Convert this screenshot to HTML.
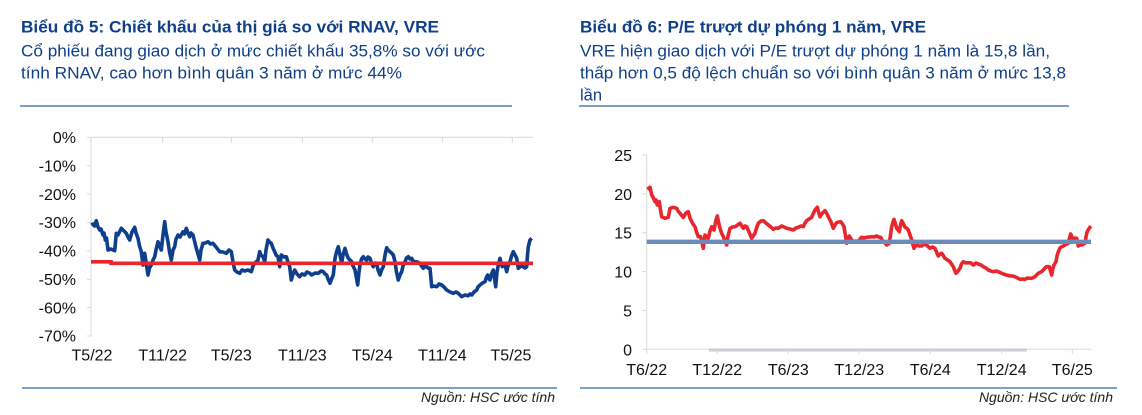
<!DOCTYPE html>
<html><head><meta charset="utf-8">
<style>
html,body{margin:0;padding:0;background:#fff;}
svg{display:block;}
text{font-family:"Liberation Sans",Arial,sans-serif;}
</style></head>
<body>
<svg width="1142" height="415" viewBox="0 0 1142 415" xmlns="http://www.w3.org/2000/svg">
<rect width="1142" height="415" fill="#ffffff"/>
<!-- Titles -->
<g fill="#0f3f88">
<text x="21" y="32.5" font-size="17" font-weight="bold" textLength="418" lengthAdjust="spacingAndGlyphs">Biểu đồ 5: Chiết khấu của thị giá so với RNAV, VRE</text>
<text x="21" y="56.5" font-size="17" textLength="464" lengthAdjust="spacingAndGlyphs">Cổ phiếu đang giao dịch ở mức chiết khấu 35,8% so với ước</text>
<text x="21" y="78.5" font-size="17" textLength="381" lengthAdjust="spacingAndGlyphs">tính RNAV, cao hơn bình quân 3 năm ở mức 44%</text>
<text x="580" y="32.5" font-size="17" font-weight="bold" textLength="346" lengthAdjust="spacingAndGlyphs">Biểu đồ 6: P/E trượt dự phóng 1 năm, VRE</text>
<text x="580" y="56.5" font-size="17" textLength="470" lengthAdjust="spacingAndGlyphs">VRE hiện giao dịch với P/E trượt dự phóng 1 năm là 15,8 lần,</text>
<text x="580" y="78.5" font-size="17" textLength="486" lengthAdjust="spacingAndGlyphs">thấp hơn 0,5 độ lệch chuẩn so với bình quân 3 năm ở mức 13,8</text>
<text x="580" y="100.5" font-size="17" textLength="22" lengthAdjust="spacingAndGlyphs">lần</text>
</g>
<!-- top separators -->
<line x1="20" y1="106" x2="512" y2="106" stroke="#7f9cc3" stroke-width="2"/>
<line x1="579" y1="106" x2="1069" y2="106" stroke="#7f9cc3" stroke-width="2"/>
<!-- bottom separators -->
<line x1="22" y1="388" x2="557" y2="388" stroke="#4f81bd" stroke-width="1.5"/>
<line x1="580" y1="388" x2="1117" y2="388" stroke="#4f81bd" stroke-width="1.5"/>
<g font-size="14" font-style="italic" fill="#222" text-anchor="end">
<text x="555" y="402">Nguồn: HSC ước tính</text>
<text x="1113" y="402">Nguồn: HSC ước tính</text>
</g>

<!-- LEFT CHART -->
<g stroke="#d9d9d9" stroke-width="1" fill="none">
<line x1="91" y1="137.3" x2="533" y2="137.3"/>
<line x1="91" y1="137.3" x2="91" y2="336"/>
<line x1="87" y1="137.3" x2="91" y2="137.3"/>
<line x1="87" y1="165.7" x2="91" y2="165.7"/>
<line x1="87" y1="194.1" x2="91" y2="194.1"/>
<line x1="87" y1="222.5" x2="91" y2="222.5"/>
<line x1="87" y1="250.9" x2="91" y2="250.9"/>
<line x1="87" y1="279.3" x2="91" y2="279.3"/>
<line x1="87" y1="307.6" x2="91" y2="307.6"/>
<line x1="87" y1="336" x2="91" y2="336"/>
<line x1="91" y1="137.3" x2="91" y2="143"/>
<line x1="162.7" y1="137.3" x2="162.7" y2="143"/>
<line x1="231.3" y1="137.3" x2="231.3" y2="143"/>
<line x1="302.3" y1="137.3" x2="302.3" y2="143"/>
<line x1="372.3" y1="137.3" x2="372.3" y2="143"/>
<line x1="442.3" y1="137.3" x2="442.3" y2="143"/>
<line x1="512.3" y1="137.3" x2="512.3" y2="143"/>
</g>
<g font-size="16" fill="#111" text-anchor="end">
<text x="76" y="143">0%</text>
<text x="76" y="171.4">-10%</text>
<text x="76" y="199.8">-20%</text>
<text x="76" y="228.2">-30%</text>
<text x="76" y="256.6">-40%</text>
<text x="76" y="285">-50%</text>
<text x="76" y="313.3">-60%</text>
<text x="76" y="341.7">-70%</text>
</g>
<g font-size="16" fill="#111" text-anchor="middle">
<text x="92" y="360.5">T5/22</text>
<text x="162.7" y="360.5">T11/22</text>
<text x="231.3" y="360.5">T5/23</text>
<text x="302.3" y="360.5">T11/23</text>
<text x="372.3" y="360.5">T5/24</text>
<text x="442.3" y="360.5">T11/24</text>
<text x="511" y="360.5">T5/25</text>
</g>
<polyline fill="none" stroke="#0d3f8c" stroke-width="3.6" stroke-linejoin="round" points="91.3,225 93,224 94.5,226 96.3,220.7 98,227 99.7,230 101,229 103,235 104,233 105.3,240 106.5,238 108,250 111,249 114.7,250.7 116.3,233.3 118,235 121.3,228.3 124,231 126.3,233.3 128,237 129.7,240 132,232 134.7,227.3 136,233 138,238.3 139.5,246 141.3,251.7 143,265 144.7,253.3 146,262 148,275 149.5,268 151.3,265 153,260 154.7,256.7 156,250 158,241.7 159.5,246 161.3,250 163,235 164.7,221.7 166,232 168,241.7 169.5,252 171.3,260 173,250 174.7,246.7 176,239 178,235 180,237 183,231.7 184.5,234 186.3,228.3 188,233 189.7,236.7 191,233 193,235 194.5,241 196.3,248.3 198,254 199.7,260 201,250 203,243.3 205.5,243 208,241.7 210.5,244 213,243.3 216,247 219.7,251.7 223,252 226.3,253.3 229,250 231.3,251.7 233,262 234.7,270 237,272 239.7,273.3 242,270 244.7,271 248,270 251.3,271.7 253,266 254.7,263.3 256,262 258,260 259.7,251.7 261,255 263,256.7 264.7,261.7 266,250 268,240 269.5,242 271.3,243.3 273,248 274.7,251.7 276,255 278,256.7 279.7,266.7 281.3,255 284,257 286.3,256.7 288,262 289.7,266.7 291.3,280 293,274 294.7,270 297,274 299.7,276.7 302,274 304.7,275 307,272 309.7,273.3 311.7,275 315,273 318.3,273.3 321,271 323.3,271.7 325,274 326.7,275 328,279 330,283.3 331.5,279 333.3,275 335,258.3 336.5,252 338.3,246.7 340,255 341.7,263.3 343,255 345,248.3 346.5,254 348.3,258.3 350,260 351.7,261.7 353,266 355,270 356.5,278 357.7,285 359,272 360,265 361.5,259 363.3,256.7 365,259 366.7,260 368,257 370,258.3 371.5,263 373.3,266.7 375,263 376.7,263.3 378,270 380,275 381.5,270 383.3,266.7 385,255 386.7,247.7 388,250 390,251.7 391.5,253 393.3,255 395,261.7 396.5,272 398.3,280 400,275 401.7,271.7 403,266 405,261.7 406.5,258 408.3,256.7 410,259 411.7,258.3 413,261 415,261.7 417.5,262 420,263.3 421.5,266 423.3,268.3 425,266 426.7,266.7 428,268 430,268.3 431.7,286.7 434,286 436.7,286.7 439,284 441.7,285 444,287 446.7,290 450,292 453.3,293.3 456,292 458.3,293.3 460,295 461.7,296.7 465,295 468.3,295.7 470,294 471.7,295 474,292 476.7,290 478,287 480,285 482.5,283 485,281.7 486.5,277 487.7,275 489,279 490,280 491.5,274 493.3,270 494.5,278 495.7,286.7 497,272 498.3,265 500,258.3 501,263 502.3,266.7 503.5,264 505,265 506,269 506.7,271.7 508,266 510,261.7 511.5,256 513.3,251.7 515,255 516.7,258.3 517.5,263 518.3,268.3 521,266 523.3,266.7 525,268 526.7,266.7 527.5,255 528.3,246.7 530,240 531.7,238.3"/>
<polyline fill="none" stroke="#e8262d" stroke-width="3.6" points="91,261.8 111,261.8 111,263.3 533,263.3"/>

<!-- RIGHT CHART -->
<g stroke="#d9d9d9" stroke-width="1" fill="none">
<line x1="646.7" y1="155" x2="646.7" y2="349.3"/>
<line x1="646.7" y1="349.3" x2="1091" y2="349.3"/>
<line x1="642.5" y1="155" x2="646.7" y2="155"/>
<line x1="642.5" y1="193.9" x2="646.7" y2="193.9"/>
<line x1="642.5" y1="232.7" x2="646.7" y2="232.7"/>
<line x1="642.5" y1="271.6" x2="646.7" y2="271.6"/>
<line x1="642.5" y1="310.4" x2="646.7" y2="310.4"/>
<line x1="642.5" y1="349.3" x2="646.7" y2="349.3"/>
<line x1="646.7" y1="349.3" x2="646.7" y2="354"/>
<line x1="717.3" y1="349.3" x2="717.3" y2="354"/>
<line x1="788.3" y1="349.3" x2="788.3" y2="354"/>
<line x1="859.3" y1="349.3" x2="859.3" y2="354"/>
<line x1="930.3" y1="349.3" x2="930.3" y2="354"/>
<line x1="1001.7" y1="349.3" x2="1001.7" y2="354"/>
<line x1="1072.3" y1="349.3" x2="1072.3" y2="354"/>
</g>
<line x1="709" y1="350" x2="1026.7" y2="350" stroke="#c9ced6" stroke-width="3"/>
<g font-size="16" fill="#111" text-anchor="end">
<text x="632" y="161">25</text>
<text x="632" y="199.9">20</text>
<text x="632" y="238.7">15</text>
<text x="632" y="277.6">10</text>
<text x="632" y="316.4">5</text>
<text x="632" y="355.3">0</text>
</g>
<g font-size="16" fill="#111" text-anchor="middle">
<text x="646.7" y="375">T6/22</text>
<text x="717.3" y="375">T12/22</text>
<text x="788.3" y="375">T6/23</text>
<text x="859.3" y="375">T12/23</text>
<text x="930.3" y="375">T6/24</text>
<text x="1001.7" y="375">T12/24</text>
<text x="1072.3" y="375">T6/25</text>
</g>
<polyline fill="none" stroke="#e8262d" stroke-width="3.6" stroke-linejoin="round" points="647.3,189.3 650,187.3 651.7,195 653,197 655,201.7 656,200 657.3,205 659.3,201.7 660.5,210 661.7,216.7 665,218.3 668.3,217.3 670,208.3 673.3,207.3 676.7,208.3 678,211 680,213.3 683.3,217.3 686,213 688.3,211.7 690,218 691.7,221.7 693,224 695,226.7 696.5,232 698.3,236.7 700.7,236.7 702,243 703.3,248.3 705,235 706.5,237 708.3,238.3 710,231 711.7,226.7 714,230 716,220 717.3,216 718.5,222 720,228.3 721.5,233 723.3,236.7 725,241 726.7,245 728,236 730,228.3 732.5,227 735,226.7 737.5,225 740,223.3 743.3,228.3 745,226 746.7,226.7 749,232 751.7,238.3 753,236 755,233.3 756.5,228 758.3,223.3 761,221 763.3,220.7 766,223 768.3,225 771,227 773.3,229.3 776,228 778.3,228.3 781.7,226 784,227 786.7,228.3 790,229 793.3,230 796,228 798.3,227.3 801,226 803.3,226.7 805,223 806.7,220.7 809,219 811.7,217.3 813,214 815,210 817.3,207.3 818.5,212 820,216.7 822.5,213 825,210.7 826.5,213 828.3,216.7 831,222 833.3,228.3 835,225 836.7,222.7 838.5,222 840.7,221.7 842.5,224 844,226.7 845.5,236 846.7,243.3 848,238 849.3,236 851,239 853.3,241.7 856,241 858.3,241.7 860,239 861.7,237.3 864,238 866.7,237.3 869,237 871.7,236.7 874,237 876.7,236 878.5,237 880.7,237.3 882,240 883.3,241.7 885,243 886.7,245 889.3,243.3 890.5,235 891.7,226.7 893,222 894,219.3 895.5,224 896.7,228.3 898,230 899.3,231.7 900.5,225 901.7,220.7 903.5,224 905,227.3 906.5,228 908.3,230 910,235 911.7,240 913,245 914,248.3 915.5,246 916.7,245 919,246 921.7,246 924,244 926.7,245 928.5,247 930,248.3 932.5,247 935,248.3 936.5,252 938.3,256 940,254 941.7,253.3 943.5,256 945,258.3 947.5,260 950,261.7 951.5,264 953.3,266.7 954.5,270 956,273.3 958,271 960,268.3 961.5,264 963.3,261.7 966,263 968.3,262.7 971,263 973.3,265 976,263 978.3,264 981,265 983.3,266.7 986,268 988.3,270 991,271 993.3,271.7 996,271 998.3,271.7 1001,273 1003.3,274 1006.5,275 1010,276 1012.5,276 1015,276.7 1017.5,278 1020,279.3 1022.5,279 1025,279.3 1027.5,278 1030,278.3 1032.5,278 1035,276.7 1036.5,275 1038.3,273.3 1041,272 1043.3,270 1045,268 1046.7,266.7 1049.3,266.7 1050.5,271 1051.7,275 1053,268 1054,265 1056,261.7 1057,256 1058.3,251.7 1060,248 1061.7,246.7 1063.5,246 1065,245 1066.5,244 1068.3,243.3 1069.5,238 1070.7,234 1072,237 1073.3,239.3 1075,238 1076.7,238.3 1077.5,242 1078.3,246 1080,245 1081.7,245 1083.5,244 1085,243.3 1086,237 1086.7,233.3 1088,230 1089.3,228.3 1090.7,226"/>
<line x1="646.7" y1="241.8" x2="1091" y2="241.8" stroke="#6b8cba" stroke-width="4.3"/>
</svg>
</body></html>
